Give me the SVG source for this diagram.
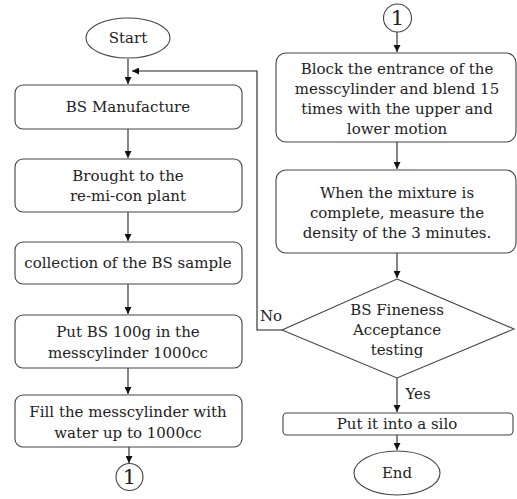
<svg xmlns="http://www.w3.org/2000/svg" width="517" height="499" viewBox="0 0 517 499">
<defs>
<style>
.s{fill:#fff;stroke:#444;stroke-width:1.1}
.c{fill:none;stroke:#222;stroke-width:1.1}
text{font-family:"DejaVu Serif","Liberation Serif",serif;font-size:15px;fill:#222;text-anchor:middle;dominant-baseline:central}
.n{font-size:21px}
</style>
<marker id="a" viewBox="0 0 8 8" refX="8" refY="4" markerWidth="7" markerHeight="7" markerUnits="userSpaceOnUse" orient="auto"><path d="M0,0L8,4L0,8z" fill="#111"/></marker>
</defs>
<rect width="517" height="499" fill="#fff"/>
<g id="connectors">
<path class="c" d="M128,59V84" marker-end="url(#a)"/>
<path class="c" d="M282,330H257V71H132" marker-end="url(#a)"/>
<path class="c" d="M128,129V158" marker-end="url(#a)"/>
<path class="c" d="M128,212V241" marker-end="url(#a)"/>
<path class="c" d="M128,284V314" marker-end="url(#a)"/>
<path class="c" d="M128,368V394" marker-end="url(#a)"/>
<path class="c" d="M129,447V463" marker-end="url(#a)"/>
<path class="c" d="M397,32V52" marker-end="url(#a)"/>
<path class="c" d="M397,142V169" marker-end="url(#a)"/>
<path class="c" d="M397,253V278" marker-end="url(#a)"/>
<path class="c" d="M397,378V412" marker-end="url(#a)"/>
<path class="c" d="M397,435V450" marker-end="url(#a)"/>
<text x="271" y="316">No</text>
<text x="418" y="394">Yes</text>
</g>
<g id="start"><ellipse class="s" cx="128" cy="38" rx="42" ry="20"/><text x="128" y="38">Start</text></g>
<g id="n1"><rect class="s" x="15" y="85" width="227" height="44" rx="8"/><text x="128" y="107">BS Manufacture</text></g>
<g id="n2"><rect class="s" x="15" y="159" width="227" height="53" rx="8"/><text x="128" y="176">Brought to the</text><text x="128" y="196">re-mi-con plant</text></g>
<g id="n3"><rect class="s" x="15" y="242" width="227" height="42" rx="8"/><text x="128" y="263">collection of the BS sample</text></g>
<g id="n4"><rect class="s" x="15" y="315" width="227" height="53" rx="8"/><text x="128" y="332">Put BS 100g in the</text><text x="128" y="353">messcylinder 1000cc</text></g>
<g id="n5"><rect class="s" x="15" y="395" width="227" height="52" rx="8"/><text x="128" y="412">Fill the messcylinder with</text><text x="128" y="433">water up to 1000cc</text></g>
<g id="c1"><circle class="s" cx="129.5" cy="477" r="13.5"/><text class="n" x="129.5" y="477">1</text></g>
<g id="c2"><circle class="s" cx="397.5" cy="18" r="14"/><text class="n" x="397.5" y="18">1</text></g>
<g id="n6"><rect class="s" x="276" y="53" width="240" height="89" rx="10"/><text x="397" y="69">Block the entrance of the</text><text x="397" y="89">messcylinder and blend 15</text><text x="397" y="109">times with the upper and</text><text x="397" y="129">lower motion</text></g>
<g id="n7"><rect class="s" x="276" y="170" width="240" height="83" rx="10"/><text x="397" y="193">When the mixture is</text><text x="397" y="213">complete, measure the</text><text x="397" y="233">density of the 3 minutes.</text></g>
<g id="d"><path class="s" d="M397,279L514,329L397,378L282,330Z"/><text x="397" y="310">BS Fineness</text><text x="397" y="330">Acceptance</text><text x="397" y="350">testing</text></g>
<g id="n8"><rect class="s" x="283" y="413" width="230" height="22" rx="4"/><text x="397" y="424">Put it into a silo</text></g>
<g id="end"><ellipse class="s" cx="397" cy="473" rx="43" ry="22"/><text x="397" y="473">End</text></g>
</svg>
